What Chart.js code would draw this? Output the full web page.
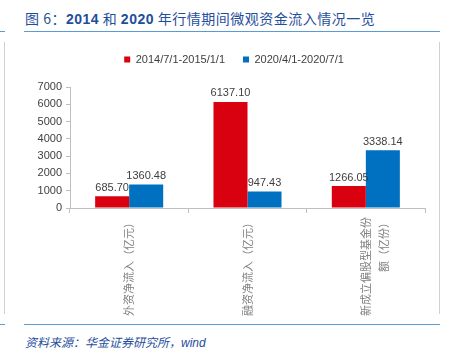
<!DOCTYPE html>
<html><head><meta charset="utf-8">
<script src="https://cdn.jsdelivr.net/npm/chart.js@4/dist/chart.umd.min.js"></script>
<style>
html,body{margin:0;padding:0;background:#fff;width:449px;height:356px;overflow:hidden;font-family:"Noto Sans CJK SC","Liberation Sans",sans-serif;}
#title{position:absolute;left:25px;top:8px;font-size:14px;color:#1f4e9c;white-space:nowrap;letter-spacing:0.5px;}
#title b{font-family:"Liberation Sans",Arial,sans-serif;font-weight:bold;}
.hl{position:absolute;height:1px;background:#5b9bd5;}
.vl{position:absolute;width:1px;background:#d0d0d0;}
#src{position:absolute;left:25px;top:333px;font-size:12px;color:#1f4e9c;font-style:italic;white-space:nowrap;}
#wrap{position:absolute;left:5px;top:34px;width:434px;height:291px;}
</style></head><body>
<div id="title">图 6：<b>2014</b> 和 <b>2020</b> 年行情期间微观资金流入情况一览</div>
<div class="hl" style="left:0;top:31px;width:5px;"></div>
<div class="hl" style="left:24px;top:31px;width:416px;"></div>
<div class="vl" style="left:4px;top:42px;height:272px;"></div>
<div class="vl" style="left:439px;top:42px;height:272px;"></div>
<div class="hl" style="left:0;top:324px;width:5px;"></div>
<div class="hl" style="left:24px;top:324px;width:416px;"></div>
<div id="src">资料来源：华金证券研究所，<span style="font-family:'Liberation Sans',Arial,sans-serif;">wind</span></div>
<div id="wrap"><canvas id="c"></canvas></div>
<script>
const categories = [["外资净流入（亿元）"], ["融资净流入（亿元）"], ["新成立偏股型基金份", "额（亿份）"]];
const seriesNames = ["2014/7/1-2015/1/1", "2020/4/1-2020/7/1"];
const series2014 = [685.70, 6137.10, 1266.05];
const series2020 = [1360.48, 947.43, 3338.14];
const yTicks = [0, 1000, 2000, 3000, 4000, 5000, 6000, 7000];

const valueLabels = {
  id: 'valueLabels',
  afterDatasetsDraw(chart) {
    const ctx = chart.ctx;
    ctx.save();
    ctx.font = '11px "Liberation Sans", Arial, sans-serif';
    ctx.fillStyle = '#404040';
    ctx.textAlign = 'center';
    ctx.textBaseline = 'bottom';
    chart.data.datasets.forEach((ds, i) => {
      const meta = chart.getDatasetMeta(i);
      meta.data.forEach((bar, j) => {
        ctx.fillText(ds.data[j].toFixed(2), bar.x, bar.y - 3);
      });
    });
    ctx.restore();
  }
};

const legendTweak = {
  id: 'legendTweak',
  beforeInit(chart) {
    const orig = chart.legend.fit;
    chart.legend.fit = function () { orig.call(this); this.height += 12; };
  },
  afterLayout(chart) {
    chart.legend.left += 38;
  }
};

new Chart(document.getElementById('c'), {
  type: 'bar',
  data: {
    labels: categories,
    datasets: [
      { label: seriesNames[0], data: series2014, backgroundColor: '#d9000f', borderWidth: 0 },
      { label: seriesNames[1], data: series2020, backgroundColor: '#0070c0', borderWidth: 0 }
    ]
  },
  options: {
    responsive: true,
    maintainAspectRatio: false,
    animation: false,
    layout: { padding: { top: 2, right: 14, left: 0, bottom: 0 } },
    plugins: {
      legend: {
        position: 'top',
        labels: {
          boxWidth: 6, boxHeight: 6, padding: 18,
          color: '#404040',
          font: { size: 11, family: '"Liberation Sans", Arial, sans-serif' }
        }
      },
      tooltip: { enabled: false }
    },
    datasets: { bar: { categoryPercentage: 0.575, barPercentage: 1.0 } },
    scales: {
      x: {
        grid: { display: true, drawOnChartArea: false, drawTicks: true, tickLength: 5, color: '#bfbfbf', offset: true },
        border: { color: '#bfbfbf' },
        ticks: {
          minRotation: 90, maxRotation: 90, autoSkip: false,
          color: '#808080', padding: 4,
          font: { size: 11, family: '"Noto Sans CJK SC", sans-serif', lineHeight: 1.6 }
        },
        afterFit(scale) { scale.height = 117; }
      },
      y: {
        min: 0, max: 7000,
        afterBuildTicks(scale) { scale.ticks = yTicks.map(v => ({ value: v })); },
        grid: { display: true, drawOnChartArea: false, drawTicks: true, tickLength: 4, color: '#bfbfbf' },
        border: { color: '#bfbfbf' },
        ticks: {
          color: '#404040', padding: 4,
          callback: v => String(v),
          font: { size: 11, family: '"Liberation Sans", Arial, sans-serif' }
        },
        afterFit(scale) { scale.width = 65; }
      }
    }
  },
  plugins: [valueLabels, legendTweak]
});
</script>
</body></html>
